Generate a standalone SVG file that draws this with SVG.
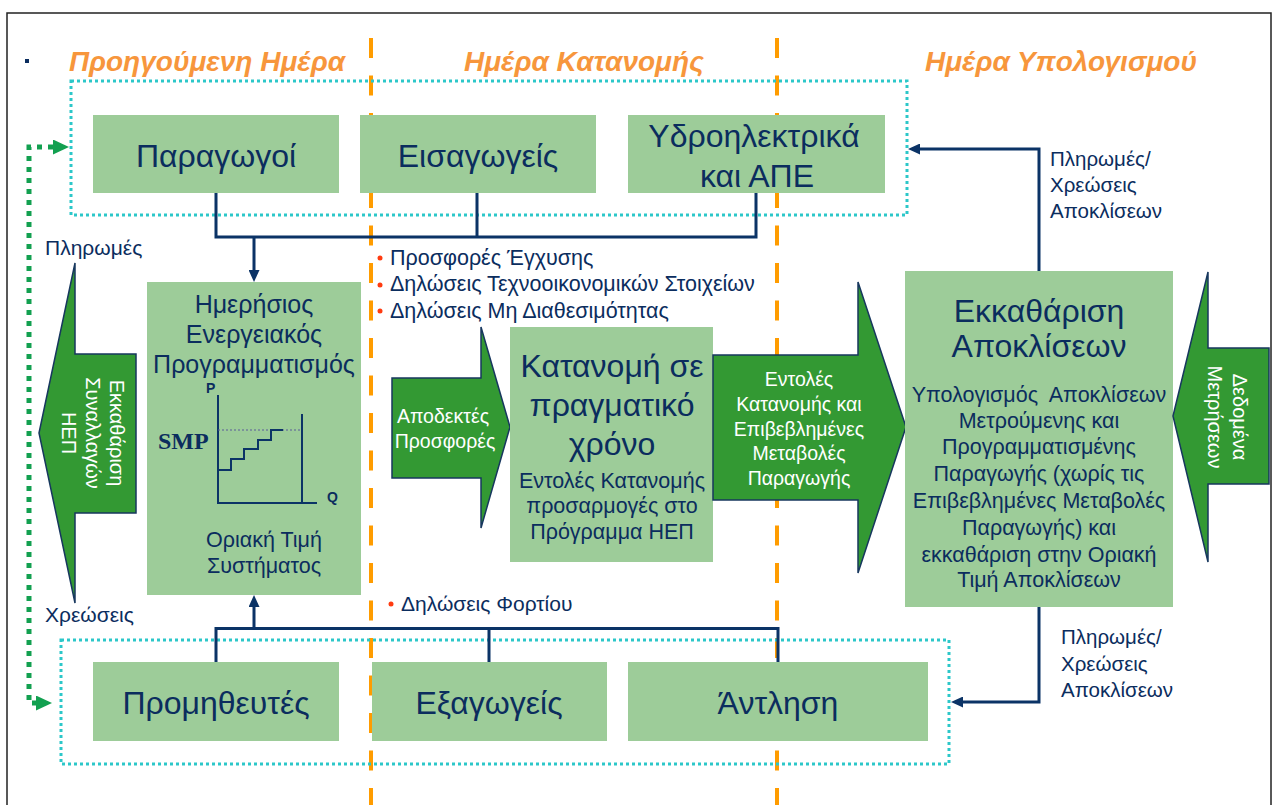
<svg xmlns="http://www.w3.org/2000/svg" width="1274" height="805" viewBox="0 0 1274 805">
<defs>
<style>
.t{font-family:"Liberation Sans",Arial,sans-serif;fill:#0B2D5E}
.w{font-family:"Liberation Sans",Arial,sans-serif;fill:#FFFFFF}
.mid{text-anchor:middle}
.title{font-family:"Liberation Sans",Arial,sans-serif;font-weight:bold;font-style:italic;font-size:28px;fill:#F7963C;text-anchor:middle}
.box{fill:#9DCC99}
.arrow{fill:#339933;stroke:#17375E;stroke-width:1.5}
.conn{fill:none;stroke:#0B3366;stroke-width:3}
.cyan{fill:none;stroke:#2CC7C9;stroke-width:3;stroke-dasharray:3 3}
.orange{stroke:#FF9C00;stroke-width:4;stroke-dasharray:20 17.5}
.gdot{fill:none;stroke:#12A050;stroke-width:5;stroke-dasharray:5 6}
.bul{fill:#FF3B10}
</style>
<marker id="ah" markerUnits="userSpaceOnUse" viewBox="0 0 12 11" markerWidth="12" markerHeight="11" refX="6" refY="5.5" orient="auto"><path d="M0,0 L12,5.5 L0,11 z" fill="#0B3366"/></marker>
<marker id="gh" markerUnits="userSpaceOnUse" viewBox="0 0 16 15" markerWidth="16" markerHeight="15" refX="8" refY="7.5" orient="auto"><path d="M0,0 L16,7.5 L0,15 z" fill="#12A050"/></marker>
</defs>
<rect x="0" y="0" width="1274" height="805" fill="#FFFFFF"/>
<rect x="7" y="13" width="1264" height="810" fill="none" stroke="#222222" stroke-width="1.5"/>
<rect x="25" y="59" width="4" height="4" fill="#0B2D5E"/>

<g id="titles">
<text class="title" x="207" y="71">Προηγούμενη Ημέρα</text>
<text class="title" x="584" y="71">Ημέρα Κατανομής</text>
<text class="title" x="1061" y="71">Ημέρα Υπολογισμού</text>
</g>

<g id="day-dividers">
<line class="orange" x1="371" y1="38" x2="371" y2="805"/>
<line class="orange" x1="777" y1="38" x2="777" y2="805"/>
</g>

<g id="groups">
<rect class="cyan" x="71" y="81" width="836" height="134"/>
<rect class="cyan" x="61" y="640" width="888" height="124"/>
</g>

<g id="connectors">
<path class="conn" d="M216,193 V237 H756 V193 M477,193 V237"/>
<path class="conn" d="M254,237 V276" marker-end="url(#ah)"/>
<path class="conn" d="M216,662 V628.5 H778 V662 M489,628.5 V662"/>
<path class="conn" d="M254,628.5 V601" marker-end="url(#ah)"/>
<path class="conn" d="M1039,271 V149 H914" marker-end="url(#ah)"/>
<path class="conn" d="M1039,606 V702 H957" marker-end="url(#ah)"/>
<path class="gdot" d="M53,147 H29 V703 H42"/>
<path d="M42,703 H44" fill="none" stroke="none" marker-end="url(#gh)"/>
<path d="M47,147 H61" fill="none" stroke="none" marker-end="url(#gh)"/>
</g>

<g id="paragogoi">
<rect class="box" x="93" y="115" width="246" height="78"/>
<text class="t mid" x="216" y="167" font-size="32">Παραγωγοί</text>
</g>
<g id="eisagogeis">
<rect class="box" x="360" y="115" width="236" height="78"/>
<text class="t mid" x="478" y="167" font-size="32">Εισαγωγείς</text>
</g>
<g id="ydroilektrika">
<rect class="box" x="628" y="115" width="257" height="78"/>
<text class="t mid" x="754" y="147" font-size="32">Υδροηλεκτρικά</text>
<text class="t mid" x="757" y="187" font-size="32">και ΑΠΕ</text>
</g>

<g id="promitheftes">
<rect class="box" x="93" y="662" width="246" height="79"/>
<text class="t mid" x="216" y="714" font-size="32">Προμηθευτές</text>
</g>
<g id="exagogeis">
<rect class="box" x="372" y="662" width="235" height="79"/>
<text class="t mid" x="489" y="714" font-size="32">Εξαγωγείς</text>
</g>
<g id="antlisi">
<rect class="box" x="628" y="662" width="300" height="79"/>
<text class="t mid" x="778" y="714" font-size="32">Άντληση</text>
</g>

<g id="hep-clearing-arrow">
<polygon class="arrow" points="75,263 75,354 136,354 136,513 75,513 75,603 39,433"/>
<g transform="translate(110,433) rotate(90)">
<text class="w mid" x="0" y="0" font-size="20">Εκκαθάριση</text>
<text class="w mid" x="0" y="24" font-size="20">Συναλλαγών</text>
<text class="w mid" x="0" y="48" font-size="20">ΗΕΠ</text>
</g>
</g>
<g id="left-labels">
<text class="t" x="45" y="255" font-size="21">Πληρωμές</text>
<text class="t" x="45" y="622" font-size="21">Χρεώσεις</text>
</g>

<g id="imerisios">
<rect class="box" x="147" y="282" width="214" height="313"/>
<text class="t mid" x="254" y="313" font-size="25">Ημερήσιος</text>
<text class="t mid" x="254" y="343" font-size="25">Ενεργειακός</text>
<text class="t mid" x="254" y="373" font-size="25">Προγραμματισμός</text>
<text class="t" x="206" y="393" font-size="14" font-weight="bold">P</text>
<text x="158" y="449" font-family="'Liberation Serif','Times New Roman',serif" font-weight="bold" font-size="24" fill="#0B2D5E">SMP</text>
<path d="M218,395 V503 H317 M302,414 V503" fill="none" stroke="#0B3366" stroke-width="2"/>
<path d="M218,430 H302" fill="none" stroke="#5A5A9A" stroke-width="1.2" stroke-dasharray="2 2"/>
<path d="M218,470 H231 V459 H244 V449 H258 V440 H271 V430 H283" fill="none" stroke="#0B3366" stroke-width="2"/>
<text class="t" x="327" y="502" font-size="14" font-weight="bold">Q</text>
<text class="t mid" x="264" y="547" font-size="21.5">Οριακή Τιμή</text>
<text class="t mid" x="264" y="573" font-size="21.5">Συστήματος</text>
</g>

<g id="offers-list">
<circle class="bul" cx="380" cy="258" r="2.5"/>
<circle class="bul" cx="380" cy="285" r="2.5"/>
<circle class="bul" cx="380" cy="311" r="2.5"/>
<text class="t" x="390" y="265" font-size="21.5">Προσφορές Έγχυσης</text>
<text class="t" x="390" y="291" font-size="21.5">Δηλώσεις Τεχνοοικονομικών Στοιχείων</text>
<text class="t" x="390" y="318" font-size="21.5">Δηλώσεις Μη Διαθεσιμότητας</text>
<circle class="bul" cx="391" cy="604" r="2.5"/>
<text class="t" x="401" y="611" font-size="21">Δηλώσεις Φορτίου</text>
</g>

<g id="accepted-offers-arrow">
<polygon class="arrow" points="392,378 481,378 481,327 510,427 481,528 481,478 392,478"/>
<text class="w mid" x="443" y="423" font-size="19.5">Αποδεκτές</text>
<text class="w mid" x="445" y="448" font-size="19.5">Προσφορές</text>
</g>

<g id="realtime-dispatch">
<rect class="box" x="510" y="327" width="203" height="235"/>
<text class="t mid" x="612" y="377" font-size="32">Κατανομή σε</text>
<text class="t mid" x="612" y="416" font-size="32">πραγματικό</text>
<text class="t mid" x="612" y="455" font-size="32">χρόνο</text>
<text class="t mid" x="612" y="488" font-size="21.5">Εντολές Κατανομής</text>
<text class="t mid" x="612" y="513" font-size="21.5">προσαρμογές στο</text>
<text class="t mid" x="612" y="539" font-size="21.5">Πρόγραμμα ΗΕΠ</text>
</g>

<g id="dispatch-orders-arrow">
<polygon class="arrow" points="713,355 858,355 858,282 906,427 858,573 858,500 713,500"/>
<text class="w mid" x="799" y="386" font-size="19.5">Εντολές</text>
<text class="w mid" x="799" y="411" font-size="19.5">Κατανομής και</text>
<text class="w mid" x="799" y="436" font-size="19.5">Επιβεβλημένες</text>
<text class="w mid" x="799" y="460" font-size="19.5">Μεταβολές</text>
<text class="w mid" x="799" y="485" font-size="19.5">Παραγωγής</text>
</g>

<g id="imbalance-settlement">
<rect class="box" x="905" y="271" width="268" height="336"/>
<text class="t mid" x="1039" y="322" font-size="32">Εκκαθάριση</text>
<text class="t mid" x="1039" y="357" font-size="32">Αποκλίσεων</text>
<text class="t mid" x="1039" y="402" font-size="21.5">Υπολογισμός&#160; Αποκλίσεων</text>
<text class="t mid" x="1039" y="428" font-size="21.5">Μετρούμενης και</text>
<text class="t mid" x="1039" y="454" font-size="21.5">Προγραμματισμένης</text>
<text class="t mid" x="1039" y="481" font-size="21.5">Παραγωγής (χωρίς τις</text>
<text class="t mid" x="1039" y="508" font-size="21.5">Επιβεβλημένες Μεταβολές</text>
<text class="t mid" x="1039" y="535" font-size="21.5">Παραγωγής) και</text>
<text class="t mid" x="1039" y="562" font-size="21.5">εκκαθάριση στην Οριακή</text>
<text class="t mid" x="1039" y="587" font-size="21.5">Τιμή Αποκλίσεων</text>
</g>

<g id="metering-arrow">
<polygon class="arrow" points="1208,272 1208,348 1269,348 1269,484 1208,484 1208,562 1173,416"/>
<g transform="translate(1233,417) rotate(90)">
<text class="w mid" x="0" y="0" font-size="20">Δεδομένα</text>
<text class="w mid" x="0" y="25" font-size="20">Μετρήσεων</text>
</g>
</g>

<g id="right-labels">
<text class="t" x="1050" y="166" font-size="20.5">Πληρωμές/</text>
<text class="t" x="1050" y="192" font-size="20.5">Χρεώσεις</text>
<text class="t" x="1050" y="218" font-size="20.5">Αποκλίσεων</text>
<text class="t" x="1061" y="644" font-size="20.5">Πληρωμές/</text>
<text class="t" x="1061" y="671" font-size="20.5">Χρεώσεις</text>
<text class="t" x="1061" y="697" font-size="20.5">Αποκλίσεων</text>
</g>
</svg>
